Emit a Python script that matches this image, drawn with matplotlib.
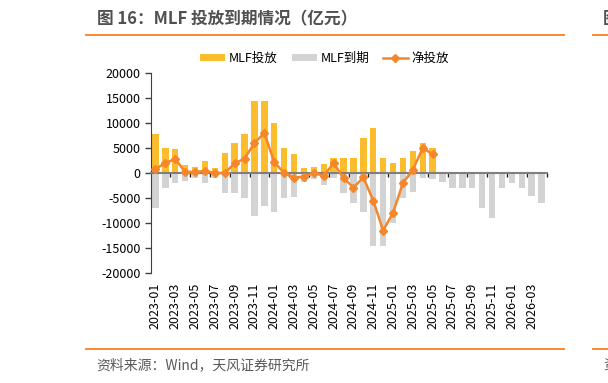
import numpy as np
import matplotlib
matplotlib.use('Agg')
import matplotlib.pyplot as plt
import matplotlib.transforms as mtransforms
from matplotlib.lines import Line2D

plt.rcParams['font.family'] = ['Noto Sans CJK SC', 'DejaVu Sans']
plt.rcParams['axes.unicode_minus'] = False

# 月份：2023-01 至 2026-04
months = ['%d-%02d' % (y, m) for y in (2023, 2024, 2025, 2026) for m in range(1, 13)][:40]

# MLF投放（亿元），2023-01 至 2025-05
issue = [7790, 4990, 4810, 1700, 1250, 2370, 1030, 4010, 5910, 7890, 14500, 14500,
         9950, 5000, 3870, 1000, 1250, 1820, 3000, 3000, 3000, 7000, 9000, 3000,
         2000, 3000, 4500, 6000, 5000]

# MLF到期（亿元），2023-01 至 2026-04
expire = [-7000, -3000, -2000, -1500, -1000, -2000, -1000, -4000, -4000, -5000, -8500, -6500,
          -7790, -4990, -4810, -1700, -1250, -2370, -1030, -4010, -5910, -7890, -14500, -14500,
          -9950, -5000, -3870, -1000, -1250, -1820, -3000, -3000, -3000, -7000, -9000, -3000,
          -2000, -3000, -4500, -6000]

# 净投放（亿元）
net = [790, 1990, 2810, 200, 250, 370, 30, 10, 1910, 2890, 6000, 8000,
       2160, 10, -940, -700, 0, -550, 1970, -1010, -2910, -890, -5500, -11500,
       -7950, -2000, 630, 5000, 3750]

W, H = 608, 383
fig = plt.figure(figsize=(W / 100, H / 100), dpi=100)
ax = fig.add_axes([150.5 / W, 1 - 273 / H, 396 / W, 200 / H])

b1 = ax.bar(np.arange(len(issue)), issue, width=0.65, color='#FBBC2E', label='MLF投放', zorder=2)
b2 = ax.bar(np.arange(len(expire)), expire, width=0.65, color='#D3D3D3', label='MLF到期', zorder=2)
l1, = ax.plot(np.arange(len(net)), net, color='#F5862A', lw=1.8, marker='D', markersize=4.5,
              label='净投放', zorder=4)

ax.set_xlim(-0.5, len(months) - 0.5)
ax.set_ylim(-20000, 20000)
ax.set_yticks(np.arange(-20000, 20001, 5000))
ax.tick_params(axis='y', length=4, width=1, color='#404040', labelsize=9, labelcolor='#000000', pad=3)

for s in ('top', 'right'):
    ax.spines[s].set_visible(False)
ax.spines['left'].set_color('#404040')
ax.spines['bottom'].set_position(('data', 0))
ax.spines['bottom'].set_color('#7F7F7F')
ax.spines['bottom'].set_linewidth(1.5)
ax.spines['bottom'].set_zorder(3)

ax.set_xticks(np.arange(1.5, len(months), 2))
ax.tick_params(axis='x', length=3, width=1, color='#202020', labelbottom=False)

trans = mtransforms.blended_transform_factory(ax.transData, ax.transAxes)
for i in range(0, len(months), 2):
    ax.text(i, -0.05, months[i], transform=trans, rotation=90, ha='center', va='top',
            fontsize=9, color='#000000')

ax.legend(handles=[b1, b2, l1], loc='center', bbox_to_anchor=(0.44, 1 + 15 / 200), ncol=3,
          frameon=False, fontsize=9, handlelength=2.0, handleheight=0.5, handletextpad=0.3,
          columnspacing=1.1, bbox_transform=ax.transAxes)

# 标题与来源
fig.text(97 / W, 1 - 19 / H, '图 16：MLF 投放到期情况（亿元）', fontsize=12, fontweight='bold',
         color='#505050', ha='left', va='center')
fig.text(96 / W, 1 - 365 / H, '资料来源：Wind，天风证券研究所', fontsize=10,
         color='#595959', ha='left', va='center')
# 右侧相邻图表被截断的标题与来源
fig.text(603 / W, 1 - 19 / H, '图', fontsize=12, fontweight='bold', color='#505050',
         ha='left', va='center')
fig.text(603 / W, 1 - 365 / H, '资', fontsize=10, color='#595959', ha='left', va='center')

for yy in (35, 349):
    fig.add_artist(Line2D([86 / W, 564 / W], [1 - yy / H, 1 - yy / H], color='#F58220', lw=1.3))
    fig.add_artist(Line2D([593 / W, 1.0], [1 - yy / H, 1 - yy / H], color='#F58220', lw=1.3))

fig.savefig('out.png', dpi=100)
